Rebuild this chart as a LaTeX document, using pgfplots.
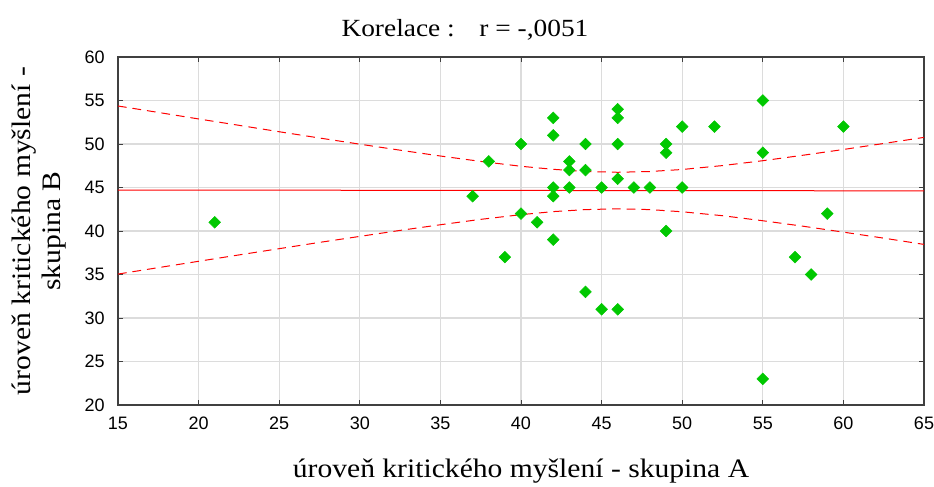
\documentclass[border=0pt]{standalone}
\usepackage{fontspec}
\setmainfont{Liberation Serif}
\setsansfont{Liberation Sans}
\newfontfamily\labelfont[FakeStretch=1.11]{Liberation Serif}
\usepackage{pgfplots}
\pgfplotsset{compat=1.18}
\usepackage{pgfplotstable}

\definecolor{ptgreen}{RGB}{0,200,0}
\definecolor{gridgray}{RGB}{220,220,220}

% skupina A (x) vs. skupina B (y)
\pgfplotstableread{
x  y
21 41
37 44
38 48
39 37
40 50
40 42
41 41
42 53
42 51
42 45
42 44
42 39
43 48
43 47
43 45
44 50
44 47
44 33
45 45
45 31
46 54
46 53
46 50
46 46
46 31
47 45
48 45
49 50
49 49
49 40
50 52
50 45
52 52
55 55
55 49
55 23
57 37
58 35
59 42
60 52
}\datatable

% regresní přímka a 95% pás spolehlivosti
\pgfplotstableread{
x    fit    upper  lower
15   44.71  54.37  35.05
17.5 44.71  53.63  35.79
20   44.70  52.88  36.52
22.5 44.70  52.15  37.25
25   44.69  51.41  37.97
27.5 44.69  50.69  38.69
30   44.68  49.98  39.38
32.5 44.68  49.29  40.07
35   44.67  48.62  40.72
37.5 44.67  48.00  41.34
40   44.66  47.44  41.88
42   44.66  47.09  42.23
44   44.65  46.84  42.46
46   44.65  46.75  42.55
48   44.65  46.84  42.46
50   44.64  47.07  42.21
52.5 44.64  47.52  41.76
55   44.63  48.08  41.18
57.5 44.63  48.71  40.55
60   44.62  49.37  39.87
62.5 44.62  50.06  39.18
65   44.61  50.76  38.46
}\fittable

\begin{document}
\begin{tikzpicture}
\begin{axis}[
  scale only axis,
  width=604.5pt, height=261pt,
  xmin=15, xmax=65, ymin=20, ymax=60,
  xtick={15,20,...,65}, ytick={20,25,...,60},
  grid=major,
  major grid style={gridgray, line width=0.8pt},
  axis line style={black!75, line width=1.1pt},
  tick align=inside,
  major tick length=4pt,
  tick style={black!75, line width=0.6pt},
  /pgf/number format/assume math mode=true,
  ticklabel style={font=\sffamily\fontsize{13.5}{16}\selectfont},
  xticklabel style={yshift=-5.5pt},
  yticklabel style={xshift=-6.5pt},
  xlabel={úroveň kritického myšlení - skupina A},
  xlabel style={font=\labelfont\fontsize{20}{24}\selectfont, at={(axis description cs:0.5,0)}, anchor=base, yshift=-54.5pt},
  ylabel={úroveň kritického myšlení -\\skupina B},
  ylabel style={font=\labelfont\fontsize{20}{22.5}\selectfont, align=center, at={(axis description cs:0,0.5)}, anchor=center, yshift=59pt},
  clip mode=individual,
]
\addplot[red, line width=0.75pt] table[x=x, y=fit] {\fittable};
\addplot[red, line width=0.75pt, dash pattern=on 6.5pt off 4.5pt] table[x=x, y=upper] {\fittable};
\addplot[red, line width=0.75pt, dash pattern=on 6.5pt off 4.5pt] table[x=x, y=lower] {\fittable};
\addplot[only marks, mark=square*, mark size=3.1pt, mark options={rotate=45, fill=ptgreen, draw=ptgreen}] table[x=x, y=y] {\datatable};
\node[font=\labelfont\fontsize{18.5}{22}\selectfont, anchor=base] at (rel axis cs:0.4305,1) [yshift=15.75pt] {Korelace :\quad r = -,0051};
% page frame
\coordinate (frameSW) at (rel axis cs:-0.1464,-0.2356);
\coordinate (frameNE) at (rel axis cs:1.0124,1.1638);
\end{axis}
\pgfresetboundingbox
\path (frameSW) rectangle (frameNE);
\end{tikzpicture}
\end{document}
